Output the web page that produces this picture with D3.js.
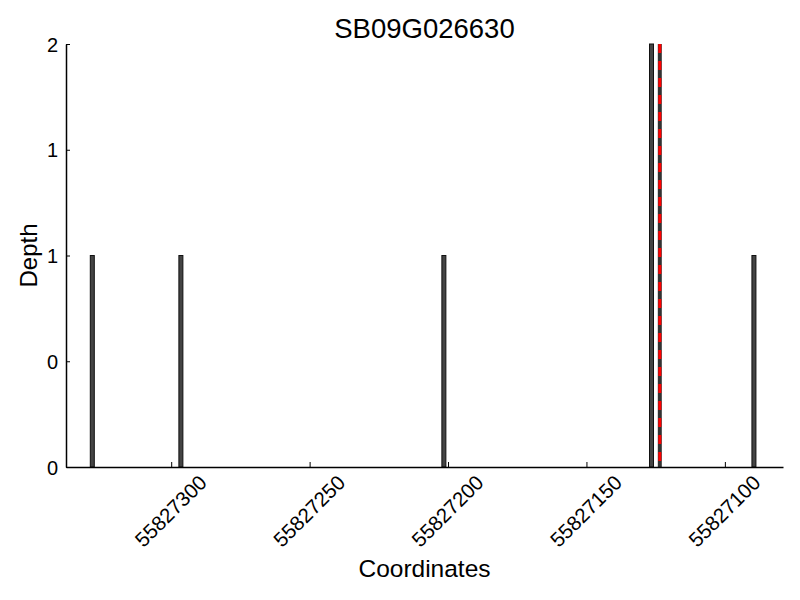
<!DOCTYPE html>
<html><head><meta charset="utf-8">
<script src="https://cdn.jsdelivr.net/npm/d3@7"></script>
<style>body{margin:0;background:#fff}svg{font-family:"Liberation Sans",Arial,sans-serif}</style>
</head><body><svg id="c" width="800" height="600"></svg>
<script>
const title = "SB09G026630";
const positions = [55827328, 55827296, 55827201, 55827126, 55827089];
const depths = [1, 1, 1, 2, 1];
const markerPos = [55827123];
const xTicks = [55827300, 55827250, 55827200, 55827150, 55827100];
const yTicks = [0, 0.5, 1, 1.5, 2];
const yTickLabels = ["0", "0", "1", "1", "2"];
const xDomain = [55827338, 55827079];
const yDomain = [0, 2];

const svg = d3.select("#c");
const L = 66, R = 783, T = 44, B = 467;
const x = d3.scaleLinear().domain(xDomain).range([L, R]);
const y = d3.scaleLinear().domain(yDomain).range([B, T]);

// bars (each covers one coordinate unit)
svg.append("g").selectAll("rect").data(positions).join("rect")
  .attr("x", (d) => x(d + 0.5) - 2)
  .attr("width", 4)
  .attr("y", (d, i) => y(depths[i]))
  .attr("height", (d, i) => y(0) - y(depths[i]))
  .attr("fill", "#444").attr("stroke", "#111").attr("stroke-width", 1);

// marker line
const m = svg.append("g");
m.selectAll("line.k").data(markerPos).join("line").attr("class","k")
  .attr("x1", d => x(d + 0.5)).attr("x2", d => x(d + 0.5)).attr("y1", T).attr("y2", B)
  .attr("stroke", "#333").attr("stroke-width", 4);
m.selectAll("line.r").data(markerPos).join("line").attr("class","r")
  .attr("x1", d => x(d + 0.5)).attr("x2", d => x(d + 0.5)).attr("y1", T).attr("y2", B)
  .attr("stroke", "#ff0000").attr("stroke-width", 3).attr("stroke-dasharray", "9,8");

// axes
const xAxis = d3.axisBottom(x).tickValues(xTicks).tickSize(-5).tickSizeOuter(0).tickFormat(d3.format("d"));
const gx = svg.append("g").attr("transform", `translate(0,${B})`).call(xAxis);
gx.select(".domain").attr("stroke-width", 1.5);
gx.selectAll(".tick text").attr("font-size", 20.5).attr("fill", "#000")
  .attr("text-anchor", "middle").attr("y", 0).attr("dy", "0.35em")
  .attr("transform", "translate(-1,44) rotate(-45)");

const yAxis = d3.axisLeft(y).tickValues(yTicks).tickSize(-4).tickSizeOuter(0)
  .tickFormat((d, i) => yTickLabels[i]);
const gy = svg.append("g").attr("transform", `translate(${L},0)`).call(yAxis);
gy.select(".domain").attr("stroke-width", 1.5);
gy.selectAll(".tick text").attr("font-size", 20).attr("fill", "#000").attr("x", -8).attr("dy", "0.35em");

svg.append("text").attr("x", (L + R) / 2).attr("y", 38).attr("text-anchor", "middle")
  .attr("font-size", 27.5).text(title);
svg.append("text").attr("x", (L + R) / 2).attr("y", 577).attr("text-anchor", "middle")
  .attr("font-size", 24.5).text("Coordinates");
svg.append("text").attr("transform", `translate(37,${(T + B) / 2}) rotate(-90)`).attr("text-anchor", "middle")
  .attr("font-size", 24).text("Depth");
</script></body></html>
